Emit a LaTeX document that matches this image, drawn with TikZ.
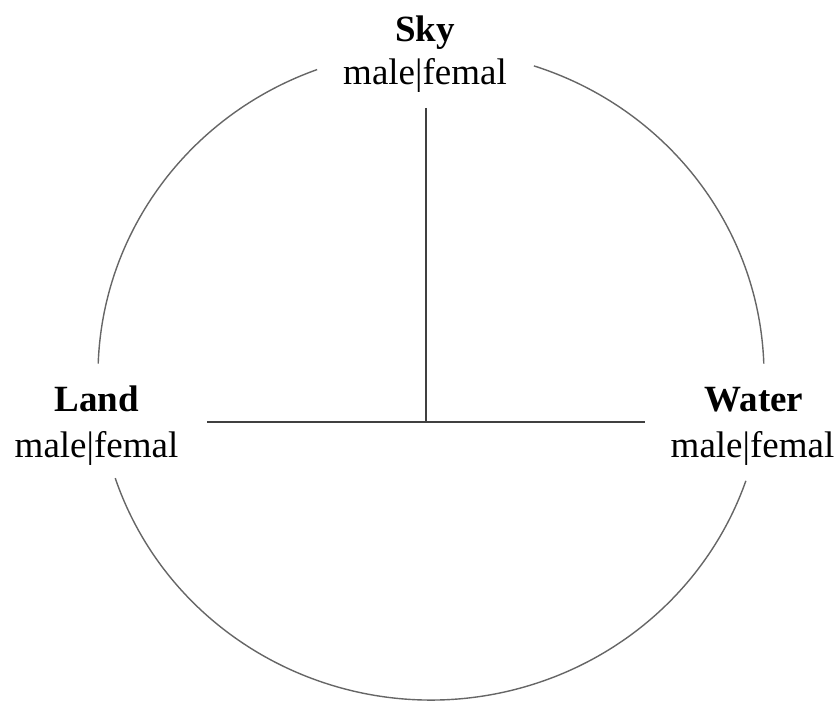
\documentclass[tikz,border=0pt]{standalone}
\usepackage{fontspec}
\setmainfont{Liberation Serif}
\begin{document}
\begin{tikzpicture}[x=1pt,y=1pt,
  lbl/.style={anchor=base,inner sep=0pt,font=\fontsize{37}{44}\selectfont},
  ttl/.style={lbl,font=\fontsize{37}{44}\selectfont\bfseries},
  ring/.style={draw=black!60,line width=1.4pt},
  tline/.style={draw=black!75,line width=1.8pt}]
\useasboundingbox (0,0) rectangle (838,702);
% labels
\node[ttl] (skyT) at (425,660) {Sky};
\node[lbl] (skyM) at (425,617) {male|femal};
\node[ttl] (landT) at (96.5,290) {Land};
\node[lbl] (landM) at (96.5,244) {male|femal};
\node[ttl] (waterT) at (754,290) {Water};
\node[lbl] (waterM) at (752.5,244) {male|femal};
% circle arcs
\coordinate (c) at (431,327);
\draw[ring] (c) ++(2:333 and 325) arc[start angle=2,end angle=72,x radius=333,y radius=325];
\draw[ring] (c) ++(110:333 and 325) arc[start angle=110,end angle=178,x radius=333,y radius=325];
\draw[ring] (c) ++(198.5:333 and 325) arc[start angle=198.5,end angle=341,x radius=333,y radius=325];
% T lines
\coordinate (hl) at (207,280);
\coordinate (hr) at (645,280);
\coordinate (vj) at (426,280);
\coordinate (vt) at (426,594);
\draw[tline] (hl) -- (hr);
\draw[tline] (vt) -- (vj);
\end{tikzpicture}
\end{document}
